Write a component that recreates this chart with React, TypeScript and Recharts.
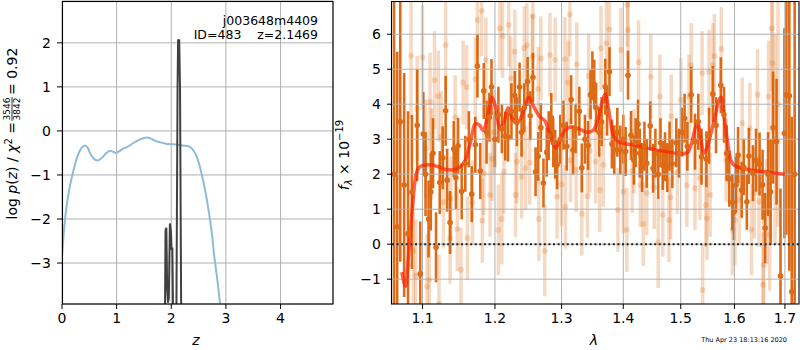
import { ComposedChart, Line, Scatter, ErrorBar, XAxis, YAxis, CartesianGrid, ReferenceLine } from 'recharts';

const FONT = 'DejaVu Sans, sans-serif';

// left panel: redshift probability
const zTicks = [0, 1, 2, 3, 4];
const logpTicks = [-3, -2, -1, 0, 1, 2];

// broad p(z) from the photometric-like fit (z, log p)
const pzBroad: [number, number][] = [
  [0, -2.85], [0.04, -2.2], [0.08, -1.75], [0.13, -1.35], [0.18, -1.05], [0.24, -0.75],
  [0.3, -0.52], [0.36, -0.38], [0.42, -0.33], [0.47, -0.38], [0.52, -0.52], [0.58, -0.63],
  [0.65, -0.67], [0.72, -0.62], [0.8, -0.52], [0.88, -0.45], [0.93, -0.47], [0.98, -0.5],
  [1.05, -0.46], [1.12, -0.4], [1.2, -0.36], [1.3, -0.28], [1.4, -0.21], [1.5, -0.16],
  [1.56, -0.15], [1.62, -0.17], [1.7, -0.22], [1.8, -0.26], [1.9, -0.29], [2.0, -0.3],
  [2.1, -0.31], [2.2, -0.33], [2.3, -0.34], [2.38, -0.4], [2.45, -0.54], [2.51, -0.75],
  [2.56, -1.0], [2.62, -1.35], [2.69, -1.86], [2.74, -2.3], [2.78, -2.77], [2.84, -3.35],
  [2.9, -4.0], [2.95, -4.6],
];

// narrow p(z) from the spectrum fit
const pzSpike: [number, number][] = [
  [1.88, -5], [1.895, -2.25], [1.91, -2.2], [1.925, -3.6], [1.94, -3.9], [1.955, -3.8],
  [1.975, -2.1], [1.995, -2.3], [2.005, -2.7], [2.02, -2.65], [2.04, -5], [2.09, -5],
  [2.115, 1.0], [2.125, 2.06], [2.145, 2.06], [2.16, 1.0], [2.185, -5],
];

// right panel: spectrum
const waveTicks = [1.1, 1.2, 1.3, 1.4, 1.5, 1.6, 1.7];
const fluxTicks = [-1, 0, 1, 2, 3, 4, 5, 6];
const fluxDomain: [number, number] = [-1.71, 6.95];

// [wavelength, flux, error]
const darkSpec: [number, number, number][] = [
  [1.063, 2.0, 5.5], [1.067, 0.5, 5.0], [1.071, 3.5, 4.0], [1.076, 1.69, 3.2], [1.081, 0.3, 3.5],
  [1.086, 1.49, 2.2], [1.093, 3.40, 1.6], [1.097, -0.85, 1.5], [1.101, 3.15, 1.2], [1.104, 2.0, 1.2],
  [1.108, 0.72, 1.1], [1.111, 1.49, 1.1], [1.114, 2.6, 1.0], [1.118, -0.09, 1.0], [1.123, 1.76, 0.9],
  [1.127, 2.47, 0.9], [1.131, 3.81, 1.0], [1.133, 1.83, 0.9], [1.137, 0.62, 0.9], [1.142, 2.72, 0.8],
  [1.145, 1.9, 0.9], [1.148, 2.81, 0.8], [1.153, 1.51, 0.8], [1.158, 2.3, 0.8], [1.163, 3.0, 0.8],
  [1.167, 1.43, 0.8], [1.172, 2.84, 0.8], [1.175, 5.09, 0.9], [1.179, 2.09, 0.8], [1.184, 4.38, 0.8],
  [1.188, 3.2, 0.9], [1.192, 3.63, 0.7], [1.195, 4.49, 0.8], [1.200, 3.0, 0.8], [1.205, 3.7, 0.8],
  [1.210, 3.3, 0.7], [1.215, 3.09, 0.7], [1.219, 3.06, 0.7], [1.224, 3.8, 0.8], [1.229, 4.25, 0.7],
  [1.232, 3.5, 0.7], [1.236, 4.49, 0.7], [1.239, 3.2, 0.7], [1.243, 3.9, 0.7], [1.248, 4.65, 0.7],
  [1.252, 3.67, 0.7], [1.256, 4.77, 0.7], [1.260, 2.07, 0.7], [1.264, 2.51, 0.7], [1.268, 3.33, 0.7],
  [1.272, 1.75, 0.7], [1.277, 2.63, 0.7], [1.280, 3.1, 0.7], [1.284, 3.62, 0.7], [1.287, 2.9, 0.7],
  [1.290, 2.57, 0.7], [1.293, 2.27, 0.7], [1.298, 3.0, 0.7], [1.303, 3.4, 0.7], [1.308, 2.8, 0.7],
  [1.315, 4.13, 0.7], [1.318, 2.69, 0.7], [1.322, 3.3, 0.7], [1.328, 3.8, 0.7], [1.332, 2.18, 0.7],
  [1.337, 3.0, 0.7], [1.342, 2.82, 0.7], [1.346, 4.27, 0.7], [1.349, 4.81, 0.7], [1.352, 4.57, 0.7],
  [1.355, 3.9, 0.7], [1.360, 3.2, 0.7], [1.364, 3.5, 0.7], [1.370, 4.5, 0.8], [1.373, 3.8, 0.7],
  [1.377, 4.93, 0.7], [1.381, 2.86, 0.7], [1.385, 2.7, 0.7], [1.390, 3.2, 0.7], [1.395, 2.69, 0.7],
  [1.400, 3.0, 0.7], [1.404, 2.65, 0.7], [1.408, 4.83, 0.7], [1.413, 3.11, 0.7], [1.418, 2.4, 0.7],
  [1.421, 2.9, 0.7], [1.425, 3.43, 0.7], [1.428, 2.6, 0.7], [1.432, 2.19, 0.7], [1.436, 2.8, 0.7],
  [1.440, 2.31, 0.7], [1.446, 3.38, 0.7], [1.451, 2.17, 0.7], [1.455, 2.6, 0.7], [1.460, 2.0, 0.7],
  [1.464, 2.9, 0.7], [1.468, 2.25, 0.7], [1.472, 2.5, 0.7], [1.476, 2.19, 0.7], [1.480, 2.8, 0.7],
  [1.485, 2.3, 0.7], [1.492, 2.9, 0.7], [1.497, 2.6, 0.7], [1.502, 3.2, 0.7], [1.507, 3.6, 0.7],
  [1.512, 2.8, 0.7], [1.519, 4.27, 0.8], [1.526, 2.93, 0.8], [1.532, 3.5, 0.8], [1.538, 2.5, 0.8],
  [1.547, 2.43, 0.8], [1.552, 3.1, 0.8], [1.559, 4.29, 0.8], [1.565, 3.4, 0.8], [1.574, 4.54, 0.8],
  [1.580, 3.7, 0.8], [1.585, 2.6, 0.8], [1.590, 1.87, 0.8], [1.596, 1.2, 0.8], [1.599, 0.92, 0.8],
  [1.603, 1.7, 0.8], [1.607, 2.55, 0.8], [1.614, 1.55, 0.8], [1.618, 2.2, 0.8], [1.624, 1.21, 0.8],
  [1.628, 2.52, 0.8], [1.636, 2.03, 0.8], [1.642, 2.4, 0.9], [1.649, 2.29, 0.9], [1.655, 1.7, 1.0],
  [1.660, 0.46, 1.0], [1.666, 2.0, 1.2], [1.671, 1.5, 1.5], [1.676, 3.33, 1.6], [1.683, 2.93, 1.8],
  [1.691, -0.91, 2.5], [1.699, 3.17, 3.0], [1.703, 4.27, 4.0], [1.709, 4.24, 5.0], [1.714, -1.36, 5.0],
  [1.720, 2.0, 6.0],
];

// low-weight points, drawn faint
const lightSpec: [number, number, number][] = [
  [1.085, 5.38, 1.8], [1.088, -0.19, 1.6], [1.091, -0.9, 1.6], [1.093, 3.88, 1.5], [1.100, 5.34, 1.5],
  [1.104, 2.74, 1.4], [1.106, -1.21, 1.5], [1.109, -1.02, 1.4], [1.110, 4.07, 1.4], [1.112, 2.58, 1.3],
  [1.116, 4.69, 1.4], [1.121, 4.23, 1.3], [1.122, -1.7, 1.4], [1.125, 3.07, 1.3], [1.128, 1.2, 1.3],
  [1.131, 5.69, 1.3], [1.137, 0.17, 1.3], [1.138, 1.31, 1.2], [1.144, 3.63, 1.2], [1.147, 0.43, 1.2],
  [1.152, -0.73, 1.2], [1.155, 4.62, 1.2], [1.160, 4.49, 1.2], [1.161, 0.17, 1.2], [1.168, 1.19, 1.2],
  [1.172, 4.71, 1.2], [1.175, 6.41, 1.3], [1.181, 6.67, 1.3], [1.182, 0.67, 1.2], [1.184, 2.03, 1.2],
  [1.187, 5.27, 1.2], [1.193, 1.41, 1.2], [1.196, 2.43, 1.2], [1.199, 3.2, 1.2], [1.205, 0.41, 1.3],
  [1.207, 6.17, 1.2], [1.210, 0.72, 1.3], [1.211, 5.95, 1.2], [1.213, 2.07, 1.2], [1.220, 6.27, 1.2],
  [1.223, 4.74, 1.2], [1.229, 5.5, 1.2], [1.230, 1.41, 1.2], [1.232, 2.36, 1.2], [1.239, 1.93, 1.2],
  [1.243, 5.6, 1.2], [1.245, 2.17, 1.2], [1.247, 5.69, 1.2], [1.251, 2.33, 1.2], [1.255, 5.36, 1.2],
  [1.256, 6.52, 1.2], [1.264, 4.44, 1.2], [1.265, 0.72, 1.2], [1.268, 5.31, 1.2], [1.274, -0.19, 1.3],
  [1.282, 5.41, 1.2], [1.290, 5.27, 1.2], [1.293, 1.36, 1.2], [1.300, 1.71, 1.2], [1.305, 5.29, 1.2],
  [1.306, 1.07, 1.2], [1.310, 4.62, 1.2], [1.313, 6.57, 1.2], [1.314, 2.4, 1.2], [1.323, 2.12, 1.2],
  [1.324, 5.14, 1.2], [1.332, 0.87, 1.2], [1.341, 1.38, 1.2], [1.343, 4.81, 1.2], [1.345, 2.67, 1.2],
  [1.354, 2.36, 1.2], [1.361, 1.55, 1.2], [1.363, 5.6, 1.2], [1.367, 2.27, 1.2], [1.372, 5.74, 1.2],
  [1.377, 6.14, 1.2], [1.391, 0.98, 1.2], [1.396, 5.55, 1.2], [1.400, 1.5, 1.2], [1.406, 0.41, 1.2],
  [1.407, 6.84, 1.2], [1.408, 6.12, 1.2], [1.415, 2.09, 1.2], [1.418, 2.65, 1.2], [1.426, 5.2, 1.2],
  [1.429, 1.69, 1.2], [1.434, 0.58, 1.2], [1.440, 1.46, 1.2], [1.447, 4.79, 1.2], [1.453, 1.63, 1.2],
  [1.460, 0.05, 1.3], [1.463, 4.22, 1.2], [1.468, 0.84, 1.2], [1.479, 0.69, 1.2], [1.482, 1.34, 1.2],
  [1.483, 3.65, 1.2], [1.494, 2.06, 1.2], [1.500, 4.12, 1.2], [1.511, 1.69, 1.2], [1.515, 4.22, 1.2],
  [1.519, 5.12, 1.2], [1.526, 1.6, 1.2], [1.535, 1.89, 1.2], [1.539, 4.89, 1.2], [1.540, -1.31, 1.3],
  [1.546, 1.12, 1.2], [1.548, 0.74, 1.2], [1.552, 4.93, 1.2], [1.554, 1.41, 1.2], [1.559, 5.12, 1.2],
  [1.562, 5.38, 1.2], [1.575, 5.58, 1.2], [1.584, 2.41, 1.2], [1.596, 0.41, 1.3], [1.601, 0.69, 1.3],
  [1.609, 1.27, 1.3], [1.615, 3.46, 1.3], [1.630, 3.31, 1.3], [1.633, 0.41, 1.3], [1.639, 1.46, 1.3],
  [1.645, 4.27, 1.3], [1.648, 1.22, 1.3], [1.656, -1.16, 1.5], [1.657, -0.59, 1.5], [1.663, 0.93, 1.5],
  [1.667, 4.22, 1.6], [1.669, 0.27, 1.6], [1.673, 6.17, 1.8], [1.675, 5.17, 2.0], [1.680, 3.0, 3.0],
  [1.686, 4.0, 3.5],
];

// best-fit template
const model: [number, number][] = [
  [1.073, -0.8], [1.078, -1.2], [1.082, -0.2], [1.086, 0.9], [1.090, 1.8], [1.094, 2.15],
  [1.100, 2.25], [1.110, 2.27], [1.120, 2.22], [1.130, 2.14], [1.140, 2.12], [1.150, 2.2],
  [1.158, 2.4], [1.165, 2.9], [1.172, 3.45], [1.178, 3.4], [1.183, 3.25], [1.190, 3.7],
  [1.196, 4.2], [1.201, 3.9], [1.207, 3.3], [1.213, 3.5], [1.219, 3.9], [1.225, 3.6],
  [1.232, 3.45], [1.240, 3.7], [1.250, 4.2], [1.258, 3.9], [1.266, 3.65], [1.275, 3.5],
  [1.283, 3.1], [1.291, 2.75], [1.298, 3.0], [1.305, 3.25], [1.315, 3.35], [1.327, 3.3],
  [1.340, 3.2], [1.350, 3.25], [1.358, 3.55], [1.365, 4.05], [1.370, 4.3], [1.376, 3.8],
  [1.382, 3.2], [1.390, 2.95], [1.400, 2.88], [1.420, 2.83], [1.440, 2.75], [1.460, 2.68],
  [1.480, 2.63], [1.500, 2.58], [1.513, 2.62], [1.520, 2.9], [1.526, 3.3], [1.531, 3.45],
  [1.536, 3.1], [1.542, 2.6], [1.548, 2.75], [1.556, 3.2], [1.564, 3.7], [1.570, 4.1],
  [1.575, 4.2], [1.580, 3.7], [1.586, 3.0], [1.592, 2.45], [1.600, 2.25], [1.620, 2.15],
  [1.640, 2.1], [1.660, 2.07], [1.680, 2.03], [1.700, 2.0],
];

const toXY = (rows: [number, number][]) => rows.map(([x, y]) => ({ x, y }));
// error bars are cut at the plot edges (the scatter layer does not clip them)
const toXYE = (rows: [number, number, number][]) =>
  rows.map(([x, y, e]) => ({
    x,
    y,
    err: [Math.max(0, Math.min(e, y - fluxDomain[0])), Math.max(0, Math.min(e, fluxDomain[1] - y))],
  }));

const ORANGE = '#d95f02';
const tickStyle = { fill: '#000', fontSize: 14, fontFamily: FONT };
const minus = (v: number) => (v < 0 ? `\u2212${-v}` : `${v}`);

const darkDot = (p: any) => <circle cx={p.cx} cy={p.cy} r={2.8} fill="#dd6c18" />;
const lightDot = (p: any) => <circle cx={p.cx} cy={p.cy} r={2.9} fill={ORANGE} fillOpacity={0.22} />;

export default function App() {
  return (
    <div style={{ position: 'absolute', left: 0, top: 0, width: 800, height: 350, background: '#fff' }}>
      <div style={{ position: 'absolute', left: 0, top: 0 }}>
        <ComposedChart width={334} height={350} margin={{ top: 1, right: 1, bottom: 16, left: 0 }}>
          <CartesianGrid stroke="#b0b0b0" />
          <XAxis type="number" dataKey="x" domain={[0, 4.96]} ticks={zTicks} allowDataOverflow
            axisLine={false} tickLine={{ stroke: '#000' }} tickSize={5} tickMargin={4} height={30}
            tick={tickStyle} />
          <YAxis type="number" dataKey="y" domain={[-3.93, 2.95]} ticks={logpTicks} allowDataOverflow
            axisLine={false} tickLine={{ stroke: '#000' }} tickSize={5} tickMargin={6} width={62}
            tick={tickStyle} tickFormatter={minus} />
          <Line data={toXY(pzBroad)} dataKey="y" type="monotone" stroke="#8fbbd9" strokeWidth={2}
            dot={false} isAnimationActive={false} />
          <Line data={toXY(pzSpike)} dataKey="y" type="linear" stroke="#404040" strokeWidth={2}
            dot={false} isAnimationActive={false} />
        </ComposedChart>
      </div>

      <div style={{ position: 'absolute', left: 340, top: 0 }}>
        <ComposedChart width={460} height={350} margin={{ top: 1, right: 1, bottom: 16, left: 0 }}>
          <XAxis type="number" dataKey="x" scale="log" domain={[1.0604, 1.729]} ticks={waveTicks}
            allowDataOverflow axisLine={false} tickLine={{ stroke: '#000' }} tickSize={5} tickMargin={4}
            height={30} tick={tickStyle} tickFormatter={(v: number) => v.toFixed(1)} />
          <YAxis type="number" dataKey="y" domain={fluxDomain} ticks={fluxTicks} allowDataOverflow
            axisLine={false} tickLine={{ stroke: '#000' }} tickSize={5} tickMargin={6} width={52}
            tick={tickStyle} tickFormatter={minus} />
          <Scatter data={toXYE(darkSpec)} shape={darkDot} isAnimationActive={false}>
            <ErrorBar dataKey="err" direction="y" width={0} stroke="#dd6c18" strokeWidth={2.6}
              isAnimationActive={false} />
          </Scatter>
          <Scatter data={toXYE(lightSpec)} shape={lightDot} isAnimationActive={false}>
            <ErrorBar dataKey="err" direction="y" width={0} stroke={ORANGE} strokeOpacity={0.24}
              strokeWidth={3.5} isAnimationActive={false} />
          </Scatter>
          {waveTicks.map((t) => (
            <ReferenceLine key={'gx' + t} x={t} stroke="#b0b0b0" strokeWidth={1} />
          ))}
          {fluxTicks.map((t) => (
            <ReferenceLine key={'gy' + t} y={t} stroke="#b0b0b0" strokeWidth={1} />
          ))}
          <ReferenceLine y={0} stroke="#222" strokeWidth={2} strokeDasharray="2 2.6" />
          <Line data={toXY(model)} dataKey="y" type="monotone" stroke="#ff2000" strokeOpacity={0.7}
            strokeWidth={3.5} dot={false} isAnimationActive={false} />
        </ComposedChart>
      </div>

      <svg width={800} height={350} style={{ position: 'absolute', left: 0, top: 0, pointerEvents: 'none' }}
        fontFamily={FONT}>
        <rect x={62.5} y={1.5} width={270.5} height={302.5} fill="none" stroke="#000" strokeWidth={1.1} />
        <rect x={391.5} y={1.5} width={407.5} height={302.5} fill="none" stroke="#000" strokeWidth={1.1} />

        <text x={318} y={24.5} fontSize={12.5} textAnchor="end">j003648m4409</text>
        <text x={318} y={39} fontSize={12.5} textAnchor="end" style={{ whiteSpace: 'pre' }}>
          {'ID=483    z=2.1469'}
        </text>

        <g transform="translate(16.5,154) rotate(-90)" fontSize={14}>
          <text x={32} y={0} textAnchor="end">
            log <tspan fontStyle="italic">p</tspan>(<tspan fontStyle="italic">z</tspan>) / <tspan fontStyle="italic">χ</tspan>
            <tspan dy={-5} fontSize={10}>2</tspan><tspan dy={5}> =</tspan>
          </text>
          <text x={45} y={-6.5} fontSize={9} textAnchor="middle">3546</text>
          <line x1={33} x2={57} y1={-4.5} y2={-4.5} stroke="#000" strokeWidth={0.8} />
          <text x={45} y={3.5} fontSize={9} textAnchor="middle">3842</text>
          <text x={59} y={0} textAnchor="start">= 0.92</text>
        </g>

        <g transform="translate(349,155) rotate(-90)" fontSize={14}>
          <text x={0} y={0} textAnchor="middle">
            <tspan fontStyle="italic">f</tspan>
            <tspan dy={3} fontSize={10} fontStyle="italic">λ</tspan>
            <tspan dy={-3}> × 10</tspan>
            <tspan dy={-6} fontSize={10}>−19</tspan>
          </text>
        </g>

        <text x={196} y={345} fontSize={14} textAnchor="middle" fontStyle="italic">z</text>
        <text x={594} y={345} fontSize={14} textAnchor="middle" fontStyle="italic">λ</text>
        <text x={787} y={342} fontSize={6.5} textAnchor="end">Thu Apr 23 18:13:16 2020</text>
      </svg>
    </div>
  );
}
